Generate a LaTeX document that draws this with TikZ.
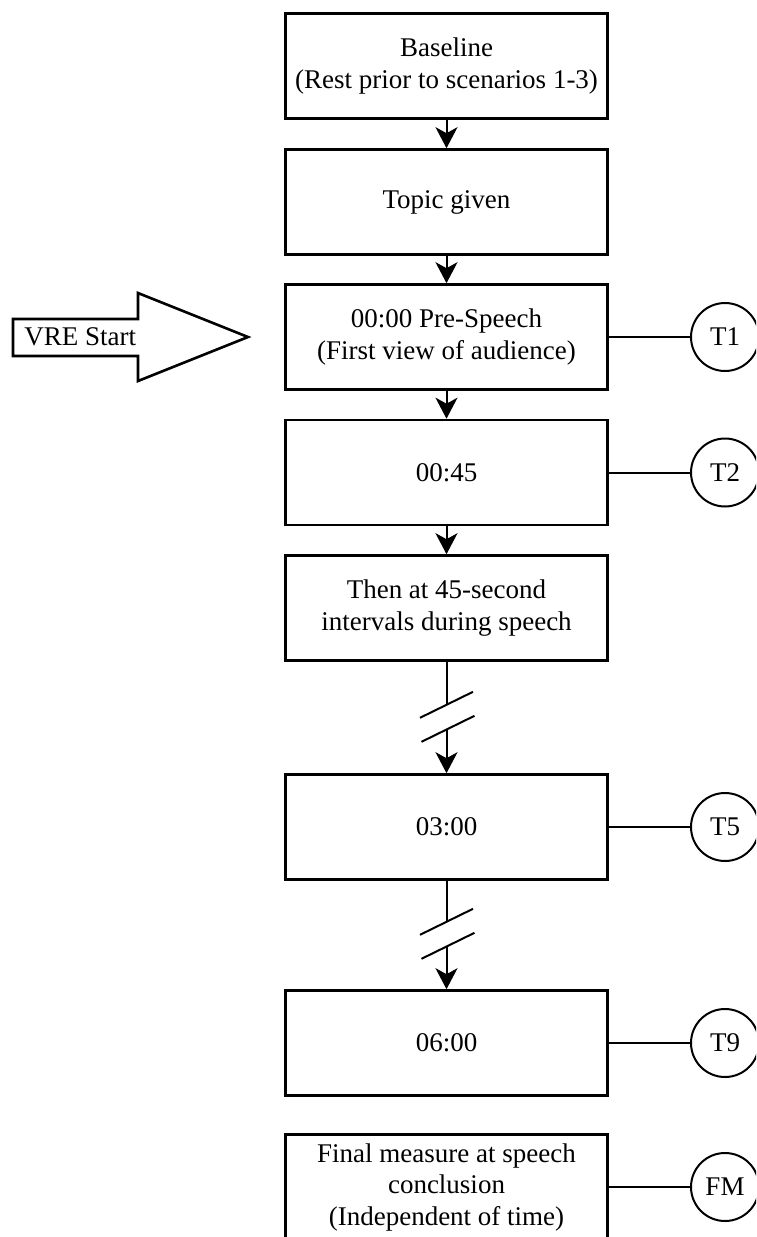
\documentclass[tikz,border=0pt]{standalone}
\usepackage{fontspec}
\setmainfont{Liberation Serif}
\usetikzlibrary{positioning,arrows.meta,calc}

\begin{document}
\begin{tikzpicture}[x=0.5pt,y=-0.5pt,
		font=\fontsize{13.5}{15.75}\selectfont,
		box/.style={draw, line width=1.3pt, minimum width=161pt, minimum height=52.5pt, align=center, inner sep=2pt},
		tnode/.style={draw, circle, line width=1pt, minimum size=34pt, inner sep=0pt},
		flow/.style={line width=1pt, -{Stealth[length=10.5pt,width=11pt,inset=3pt]}},
		link/.style={line width=1pt}]
				\path[use as bounding box, clip] (0,0) rectangle (756,1237);
				\node[box] (base) at (446.5, 66) {Baseline\\(Rest prior to scenarios 1-3)};
				\node[box] (topic) at (446.5, 202) {Topic given};
				\node[box] (pre) at (446.5, 337) {00:00 Pre-Speech\\(First view of audience)};
				\node[box] (m045) at (446.5, 472.5) {00:45};
				\node[box] (intv) at (446.5, 608) {Then at 45-second\\intervals during speech};
				\node[box] (m300) at (446.5, 827) {03:00};
				\node[box] (m600) at (446.5, 1043) {06:00};
				\node[box] (final) at (446.5, 1187) {Final measure at speech\\conclusion\\(Independent of time)};
				\node[tnode] (t1) at (725, 337) {T1};
				\node[tnode] (t2) at (725, 472.5) {T2};
				\node[tnode] (t5) at (725, 827) {T5};
				\node[tnode] (t9) at (725, 1043) {T9};
				\node[tnode] (fm) at (725, 1187) {FM};
				\draw[flow] (base) -- (topic);
				\draw[flow] (topic) -- (pre);
				\draw[flow] (pre) -- (m045);
				\draw[flow] (m045) -- (intv);
				\draw[link] (pre) -- (t1);
				\draw[link] (m045) -- (t2);
				\draw[link] (m300) -- (t5);
				\draw[link] (m600) -- (t9);
				\draw[link] (final) -- (fm);
				% broken time axis between the measures
				\coordinate (g1) at ($(intv.south)+(0,43)$);
				\coordinate (g2) at ($(intv.south)+(0,67)$);
				\coordinate (g3) at ($(m300.south)+(0,41)$);
				\coordinate (g4) at ($(m300.south)+(0,65)$);
				\draw[link] (intv) -- (g1);
				\draw[link] ($(g1)+(-26.5,13)$) -- ($(g1)+(26.5,-13)$);
				\draw[link] ($(g2)+(-25,13)$) -- ($(g2)+(28,-13)$);
				\draw[flow] (g2) -- (m300);
				\draw[link] (m300) -- (g3);
				\draw[link] ($(g3)+(-26.5,13)$) -- ($(g3)+(26.5,-13)$);
				\draw[link] ($(g4)+(-25,13)$) -- ($(g4)+(28,-13)$);
				\draw[flow] (g4) -- (m600);
				% VRE start arrow
				\draw[line width=1.3pt] (13,319) -- (138,319) -- (138,293) -- (248,337) -- (138,381) -- (138,356) -- (13,356) -- cycle;
				\node[anchor=base west, inner sep=0pt] (vre) at (24,345) {VRE Start};
\end{tikzpicture}
\end{document}
